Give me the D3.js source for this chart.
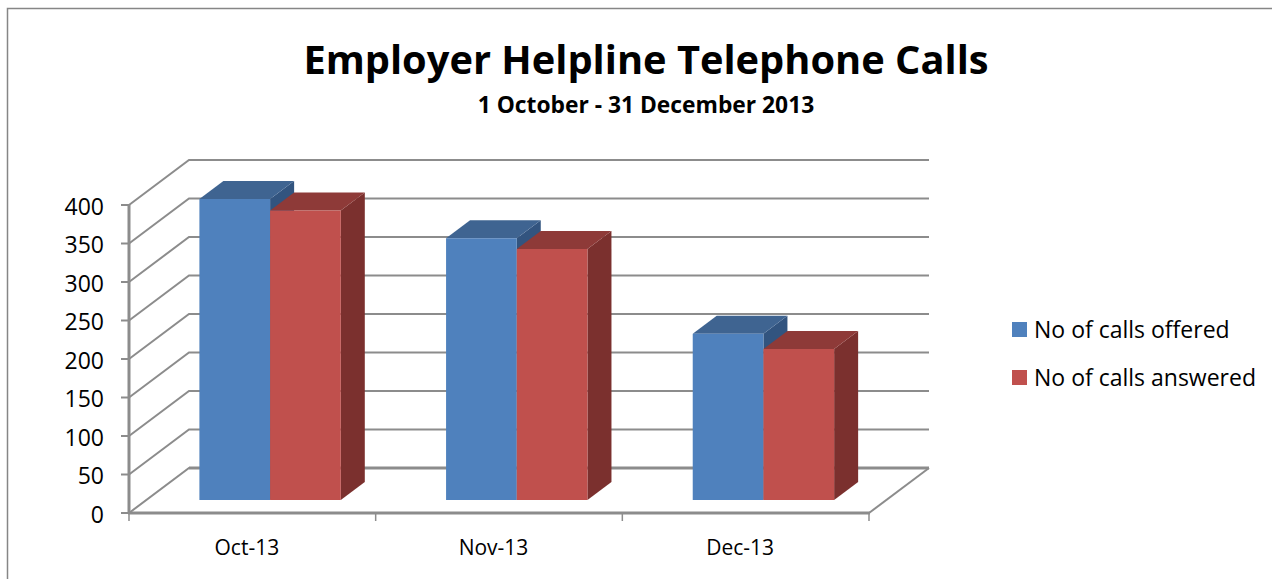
<!DOCTYPE html>
<html>
<head>
<meta charset="utf-8">
<script src="https://cdn.jsdelivr.net/npm/d3@7/dist/d3.min.js"></script>
<style>
html,body{margin:0;padding:0;background:#fff;overflow:hidden}
text{font-family:"Open Sans",Lato,sans-serif;fill:#000}
</style>
</head>
<body>
<svg id="chart" width="1272" height="579"></svg>
<script>
const months = ["Oct-13", "Nov-13", "Dec-13"];
const seriesNames = ["No of calls offered", "No of calls answered"];
const offered = [391, 340, 216];
const answered = [376, 326, 196];
const yTicks = [0, 50, 100, 150, 200, 250, 300, 350, 400];

const faces = [
  {front: "#4f81bd", top: "#3f6491", side: "#32547f"},
  {front: "#c0504d", top: "#8e3a38", side: "#7b302e"}
];
const gridColor = "#8c8c8c";

const svg = d3.select("#chart");

// Oblique projection: depth t runs from the front of the floor (0) to the back wall (1).
const depthX = 60, depthY = -45;
const x = d3.scaleBand().domain(months).range([129, 869]);
const y = d3.scaleLinear().domain([0, 400]).range([513, 205]);
const project = (px, v, t) => [px + depthX * t, y(v) + depthY * t];
const path = pts => "M" + pts.map(p => p.join(",")).join("L") + "Z";

// Outer frame: only the top and left edges fall inside the page.
svg.append("path")
  .attr("d", "M7.5,579V8.5H1272")
  .attr("fill", "none").attr("stroke", "#868686").attr("stroke-width", 1.5);

// Title block
svg.append("text").attr("x", 646).attr("y", 74).attr("text-anchor", "middle")
  .attr("font-size", 39.8).attr("font-weight", 700)
  .text("Employer Helpline Telephone Calls");
svg.append("text").attr("x", 646).attr("y", 112.5).attr("text-anchor", "middle")
  .attr("font-size", 22.8).attr("font-weight", 700)
  .text("1 October - 31 December 2013");

// Gridlines on the side and back walls
const grid = svg.append("g").attr("fill", "none").attr("stroke", gridColor).attr("stroke-width", 2);
yTicks.forEach(v => {
  const a = project(x.range()[0], v, 0), b = project(x.range()[0], v, 1), c = project(x.range()[1], v, 1);
  grid.append("polyline").attr("points", [a, b, c].map(p => p.join(",")).join(" "));
});

// Heavier line where the floor meets the back wall
const floorBackLeft = project(x.range()[0], 0, 1), floorBackRight = project(x.range()[1], 0, 1);
svg.append("line").attr("x1", floorBackLeft[0]).attr("y1", floorBackLeft[1])
  .attr("x2", floorBackRight[0]).attr("y2", floorBackRight[1])
  .attr("stroke", gridColor).attr("stroke-width", 3);

// Floor front-right edge
const floorFront = project(x.range()[1], 0, 0);
svg.append("line").attr("x1", floorFront[0]).attr("y1", floorFront[1])
  .attr("x2", floorBackRight[0]).attr("y2", floorBackRight[1])
  .attr("stroke", gridColor).attr("stroke-width", 2);

// Value axis with labels
const yAxis = svg.append("g");
yAxis.append("line").attr("x1", 129).attr("x2", 129).attr("y1", y(400)).attr("y2", y(0) + 1)
  .attr("stroke", gridColor).attr("stroke-width", 3);
yTicks.forEach(v => {
  yAxis.append("line").attr("x1", 121).attr("x2", 129).attr("y1", y(v)).attr("y2", y(v))
    .attr("stroke", gridColor).attr("stroke-width", 2);
  yAxis.append("text").attr("x", 104).attr("y", y(v) + 9.5).attr("text-anchor", "end")
    .attr("font-size", 23).text(v);
});

// Category axis with labels
const xAxis = svg.append("g");
xAxis.append("line").attr("x1", 128).attr("x2", 870).attr("y1", y(0)).attr("y2", y(0))
  .attr("stroke", gridColor).attr("stroke-width", 3);
[...months.map(m => x(m)), x.range()[1]].forEach(px => {
  xAxis.append("line").attr("x1", px).attr("x2", px).attr("y1", y(0)).attr("y2", y(0) + 8)
    .attr("stroke", gridColor).attr("stroke-width", 1.5);
});
months.forEach(m => {
  xAxis.append("text").attr("x", x(m) + x.bandwidth() / 2 - 5.5).attr("y", 555)
    .attr("text-anchor", "middle").attr("font-size", 21).text(m);
});

// Bars: each one is a front, top and side face between two depth positions.
const tFront = 0.29, tBack = 0.69;
const barWidth = 70.7, barInset = 53;
const bars = svg.append("g");
[offered, answered].forEach((values, s) => {
  months.forEach((m, i) => {
    const left = x(m) + barInset + s * barWidth, right = left + barWidth, v = values[i];
    const A = project(left, v, tFront), B = project(right, v, tFront),
          C = project(right, v, tBack), D = project(left, v, tBack),
          E = project(right, 0, tFront), F = project(right, 0, tBack),
          G = project(left, 0, tFront);
    const g = bars.append("g");
    g.append("path").attr("d", path([B, C, F, E])).attr("fill", faces[s].side);
    g.append("path").attr("d", path([A, B, C, D])).attr("fill", faces[s].top);
    g.append("path").attr("d", path([A, B, E, G])).attr("fill", faces[s].front);
  });
});

// Legend
const legend = svg.append("g");
seriesNames.forEach((name, i) => {
  const ly = 322 + i * 48;
  legend.append("rect").attr("x", 1012).attr("y", ly).attr("width", 15).attr("height", 15)
    .attr("fill", faces[i].front);
  legend.append("text").attr("x", 1034).attr("y", ly + 16).attr("font-size", 23).text(name);
});
</script>
</body>
</html>
